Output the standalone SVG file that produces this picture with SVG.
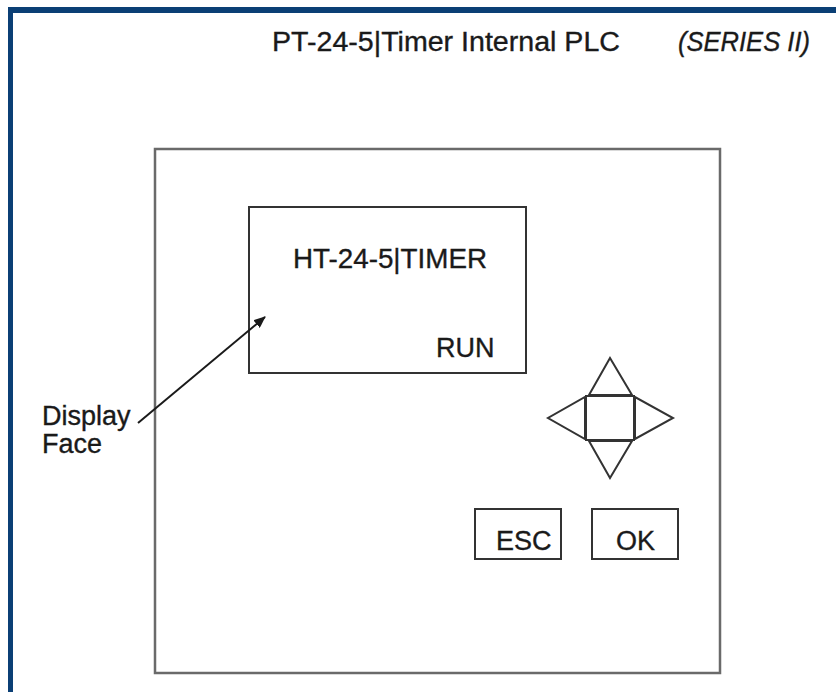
<svg xmlns="http://www.w3.org/2000/svg" width="836" height="692" viewBox="0 0 836 692">
<defs>
<style>
.t{font-family:"Liberation Sans",Arial,sans-serif;font-size:27px;fill:#1a1a1a;stroke:#1a1a1a;stroke-width:0.35}
.box{fill:#fff;stroke:#333;stroke-width:2}
.key{fill:#fff;stroke:#333;stroke-width:2;stroke-linejoin:miter}
</style>
<marker id="ah" markerWidth="12" markerHeight="10" refX="11" refY="5" orient="auto" markerUnits="userSpaceOnUse">
<path d="M0,0 L12,5 L0,10 Z" fill="#1a1a1a"/>
</marker>
</defs>
<rect width="836" height="692" fill="#fff"/>
<g id="frame">
<rect x="8" y="7" width="828" height="6" fill="#0b3f75"/>
<rect x="8" y="7" width="5" height="685" fill="#0b3f75"/>
</g>
<g id="title">
<text class="t" x="272" y="51" font-size="28" textLength="348" lengthAdjust="spacingAndGlyphs">PT-24-5|Timer Internal PLC</text>
<text class="t" x="678" y="51" font-size="28" font-style="italic" textLength="132" lengthAdjust="spacingAndGlyphs">(SERIES II)</text>
</g>
<g id="housing">
<rect x="155" y="149" width="565" height="524" fill="#fff" stroke="#6a6a6a" stroke-width="2.5"/>
</g>
<g id="display">
<rect class="box" x="249" y="207" width="277" height="166"/>
<text class="t" x="293" y="268" font-size="28" textLength="194" lengthAdjust="spacingAndGlyphs">HT-24-5|TIMER</text>
<text class="t" x="436" y="357">RUN</text>
</g>
<g id="dpad">
<rect class="key" x="586" y="396" width="48" height="44"/>
<polygon class="key" points="589,395 632,395 610,358"/>
<polygon class="key" points="589,441 632,441 610,478"/>
<polygon class="key" points="585,397 585,439 548,418"/>
<polygon class="key" points="635,397 635,439 673,418"/>
</g>
<g id="esc">
<rect class="box" x="475" y="509" width="86" height="50"/>
<text class="t" x="496" y="550">ESC</text>
</g>
<g id="ok">
<rect class="box" x="592" y="509" width="86" height="50"/>
<text class="t" x="616" y="550" font-size="28">OK</text>
</g>
<g id="label">
<text class="t" x="42" y="425">Display</text>
<text class="t" x="42" y="453">Face</text>
</g>
<g id="connectors">
<line x1="138" y1="423" x2="265" y2="317" stroke="#1a1a1a" stroke-width="2" marker-end="url(#ah)"/>
</g>
</svg>
